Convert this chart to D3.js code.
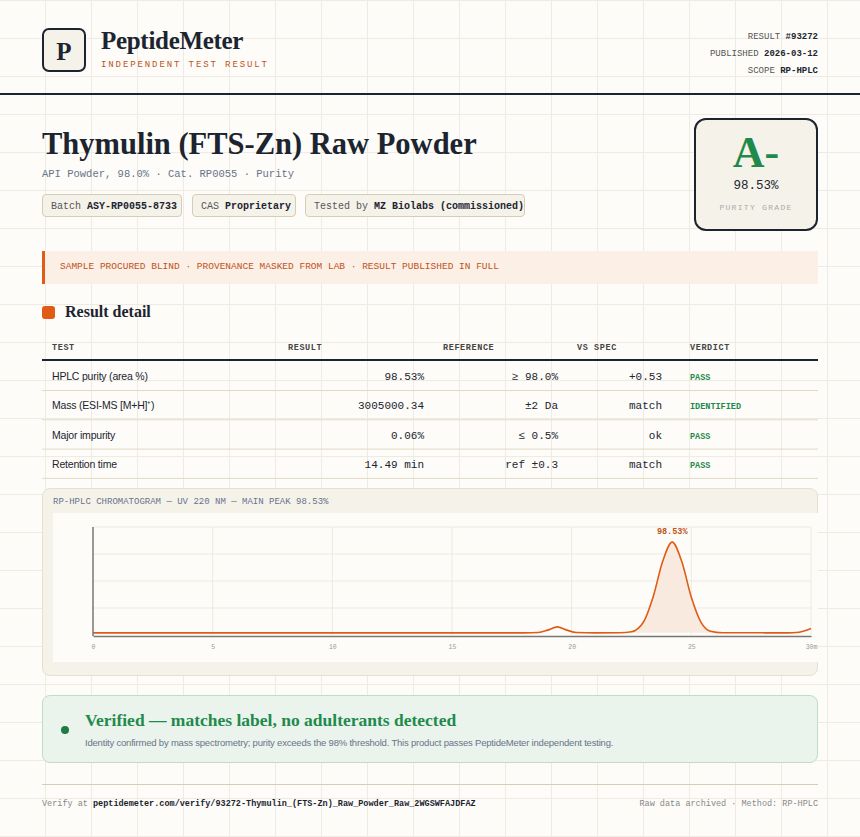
<!DOCTYPE html>
<html><head><meta charset="utf-8">
<script src="https://cdn.jsdelivr.net/npm/d3@7"></script>
<style>
body{margin:0;width:860px;height:837px;overflow:hidden;background-color:#fdfcf8;
 background-image:linear-gradient(#eeebe3 1px,transparent 1px),linear-gradient(90deg,#eeebe3 1px,transparent 1px);
 background-size:46px 38px;background-position:-1px 0;font-family:"Liberation Sans",Arial,sans-serif;color:#1c2430;position:relative}
.abs{position:absolute;white-space:nowrap}
.mono{font-family:"Liberation Mono","DejaVu Sans Mono",monospace}
.serif{font-family:"Liberation Serif","DejaVu Serif",serif}
.chip{position:absolute;top:194px;height:23px;line-height:23px;border:1px solid #d6cdb6;border-radius:4px;background:#f5f2ea;font-size:10px;padding:0 8px;color:#555;box-sizing:border-box;white-space:nowrap}
.chip b{color:#1c2430}
</style></head><body>
<div class="abs" style="left:42px;top:28px;width:44px;height:44px;border:2px solid #1c2430;border-radius:7px;background:#f5f2ea;box-sizing:border-box;text-align:center;line-height:42px;font-size:25px"><span class="serif" style="font-weight:bold">P</span></div>
<div class="abs serif" style="left:101px;top:27px;font-size:25px;font-weight:bold;letter-spacing:-0.3px">PeptideMeter</div>
<div class="abs mono" style="left:101px;top:60px;font-size:9px;letter-spacing:1.9px;color:#c0531a">INDEPENDENT TEST RESULT</div>
<div class="abs mono" style="left:560px;width:258px;top:29px;text-align:right;font-size:9px;line-height:17px;color:#555">RESULT <b style="color:#1c2430">#93272</b><br>PUBLISHED <b style="color:#1c2430">2026-03-12</b><br>SCOPE <b style="color:#1c2430">RP-HPLC</b></div>
<div class="abs" style="left:0;top:93px;width:860px;height:2px;background:#1c2430"></div>

<div class="abs serif" style="left:42px;top:127px;font-size:30.5px;font-weight:bold;letter-spacing:0px">Thymulin (FTS-Zn) Raw Powder</div>
<div class="abs mono" style="left:42px;top:168px;font-size:10.5px;color:#68738a">API Powder, 98.0% · Cat. RP0055 · Purity</div>
<div class="chip mono" style="left:42px;width:140px">Batch <b>ASY-RP0055-8733</b></div>
<div class="chip mono" style="left:192px;width:104px">CAS <b>Proprietary</b></div>
<div class="chip mono" style="left:305px;width:220px">Tested by <b>MZ Biolabs (commissioned)</b></div>

<div class="abs" style="left:694px;top:118px;width:124px;height:113px;border:2px solid #1c2430;border-radius:12px;background:#f5f2ea;box-sizing:border-box;text-align:center">
 <div class="serif" style="font-size:44px;font-weight:bold;color:#1f8a4c;margin-top:9px;line-height:48px">A-</div>
 <div class="mono" style="font-size:12.5px;margin-top:2px">98.53%</div>
 <div class="mono" style="font-size:8px;letter-spacing:1.3px;color:#aaa;margin-top:10px">PURITY GRADE</div>
</div>

<div class="abs mono" style="left:42px;top:251px;width:776px;height:33px;background:#fbefe6;border-left:3px solid #e05c16;box-sizing:border-box;padding-left:15px;line-height:32px;font-size:9.5px;color:#c0531a">SAMPLE PROCURED BLIND · PROVENANCE MASKED FROM LAB · RESULT PUBLISHED IN FULL</div>

<div class="abs" style="left:42px;top:306px;width:13px;height:13px;border-radius:3px;background:#e05c16"></div>
<div class="abs serif" style="left:65px;top:303px;font-size:16px;font-weight:bold">Result detail</div>

<svg id="tbl" class="abs" style="left:0;top:330px" width="860" height="155"></svg>

<div class="abs" style="left:42px;top:488px;width:776px;height:188px;background:#f5f2ea;border:1px solid #e6e0d0;border-radius:8px;box-sizing:border-box"></div>
<div class="abs mono" style="left:53px;top:497px;font-size:9px;color:#68738a">RP-HPLC CHROMATOGRAM — UV 220 NM — MAIN PEAK 98.53%</div>
<svg id="chart" class="abs" style="left:0;top:0" width="860" height="700"></svg>

<div class="abs" style="left:42px;top:695px;width:776px;height:68px;background:#ebf4ec;border:1px solid #bfdcc6;border-radius:8px;box-sizing:border-box"></div>
<div class="abs" style="left:61px;top:726px;width:8px;height:8px;border-radius:50%;background:#1f7a45"></div>
<div class="abs serif" style="left:85px;top:710px;font-size:17.5px;font-weight:bold;color:#1f8a4c">Verified — matches label, no adulterants detected</div>
<div class="abs" style="left:85px;top:737px;font-size:9.5px;color:#68738a;letter-spacing:-0.2px">Identity confirmed by mass spectrometry; purity exceeds the 98% threshold. This product passes PeptideMeter independent testing.</div>
<div class="abs" style="left:42px;top:784px;width:776px;height:1px;background:#d6cdb6"></div>
<div class="abs mono" style="left:42px;top:799px;font-size:8.5px;color:#888">Verify at <b style="color:#1c2430">peptidemeter.com/verify/93272-Thymulin_(FTS-Zn)_Raw_Powder_Raw_2WGSWFAJDFAZ</b></div>
<div class="abs mono" style="right:42px;top:799px;font-size:8.5px;color:#888">Raw data archived · Method: RP-HPLC</div>

<script>
const headers = ["TEST","RESULT","REFERENCE","VS SPEC","VERDICT"];
const tests = ["HPLC purity (area %)","Mass (ESI-MS [M+H]⁺)","Major impurity","Retention time"];
const results = ["98.53%","3005000.34","0.06%","14.49 min"];
const references = ["≥ 98.0%","±2 Da","≤ 0.5%","ref ±0.3"];
const vsSpec = ["+0.53","match","ok","match"];
const verdicts = ["PASS","IDENTIFIED","PASS","PASS"];

// chromatogram samples: minutes, % of full scale
const times =  [0, 18, 18.6, 19, 19.4, 19.8, 20.2, 21, 22, 22.5, 23, 23.4, 23.8, 24.2, 24.6, 25, 25.4, 25.8, 26.3, 29, 29.5, 30];
const signal = [2, 2, 2.3, 4.5, 7.5, 4.5, 2.3, 2, 2.1, 3, 12, 35, 68, 86, 68, 35, 12, 3.5, 2.1, 2, 2.6, 6];
const xTicks = [0,5,10,15,20,25,30];

// table
const tbl = d3.select("#tbl");
const colX = [52,288,443,577,690], valX = [52,424,558,662,690];
const monoF = "Liberation Mono,DejaVu Sans Mono,monospace";
tbl.selectAll("text.h").data(headers).join("text").attr("x",(d,i)=>colX[i]).attr("y",20)
  .attr("font-family",monoF).attr("font-size",8.5).attr("font-weight","bold")
  .attr("letter-spacing",0.6).attr("fill","#444").text(d=>d);
tbl.append("rect").attr("x",42).attr("y",29).attr("width",776).attr("height",2).attr("fill","#1c2430");
const rows = tests.map((t,i)=>[t,results[i],references[i],vsSpec[i],verdicts[i]]);
const rowY = i => 50 + i*29.3;
rows.forEach((r,i)=>{
  const g = tbl.append("g");
  g.append("rect").attr("x",42).attr("y",rowY(i)+10).attr("width",776).attr("height",1).attr("fill","#e2dac6");
  r.forEach((v,j)=>{
    g.append("text").attr("x",valX[j]).attr("y",rowY(i))
      .attr("text-anchor",(j>0&&j<4)?"end":"start")
      .attr("font-family",j==0?"Liberation Sans,Arial":monoF)
      .attr("font-size",j==4?8.5:(j==0?10.5:11)).attr("font-weight",j==4?"bold":null)
      .attr("letter-spacing",j==0?-0.2:null)
      .attr("fill",j==4?"#1f8a4c":"#1c2430").text(v);
  });
});

// chart
const svg = d3.select("#chart");
svg.append("rect").attr("x",53).attr("y",513).attr("width",765).attr("height",149).attr("fill","#fdfcf8");
const x = d3.scaleLinear().domain([0,30]).range([93,811]);
const y = d3.scaleLinear().domain([0,100]).range([635,527]);
const g = svg.append("g");
g.selectAll("line.hg").data([25,50,75,100]).join("line").attr("x1",93).attr("x2",811)
  .attr("y1",d=>y(d)).attr("y2",d=>y(d)).attr("stroke","#eeeae0").attr("stroke-width",1);
g.selectAll("line.vg").data(xTicks.slice(1)).join("line").attr("y1",527).attr("y2",635)
  .attr("x1",d=>x(d)).attr("x2",d=>x(d)).attr("stroke","#eeeae0");
const pts = times.map((t,i)=>[t,signal[i]]);
const peak = pts.filter(p=>p[0]>=22 && p[0]<=26.3);
g.append("path").datum(peak).attr("fill","#f9eadf")
  .attr("d",d3.area().x(d=>x(d[0])).y0(y(2)).y1(d=>y(d[1])).curve(d3.curveMonotoneX));
g.append("path").datum(pts).attr("fill","none").attr("stroke","#e05c16").attr("stroke-width",1.6)
  .attr("d",d3.line().x(d=>x(d[0])).y(d=>y(d[1])).curve(d3.curveMonotoneX));
g.append("line").attr("x1",93).attr("x2",93).attr("y1",527).attr("y2",636).attr("stroke","#777").attr("stroke-width",1.5);
const ax = g.append("g").attr("transform","translate(0,636)")
  .call(d3.axisBottom(x).tickValues(xTicks).tickSize(0).tickPadding(8).tickFormat(d=>d===30?"30m":d));
ax.select(".domain").attr("stroke","#777").attr("stroke-width",1.5);
ax.selectAll("text").attr("font-family",monoF).attr("font-size",6.5).attr("fill","#999");
const apex = pts.reduce((a,b)=>b[1]>a[1]?b:a);
g.append("text").attr("x",x(apex[0])).attr("y",y(apex[1])-8).attr("text-anchor","middle")
  .attr("font-family",monoF).attr("font-size",8.5).attr("font-weight","bold")
  .attr("fill","#c0531a").text("98.53%");
</script>
</body></html>
